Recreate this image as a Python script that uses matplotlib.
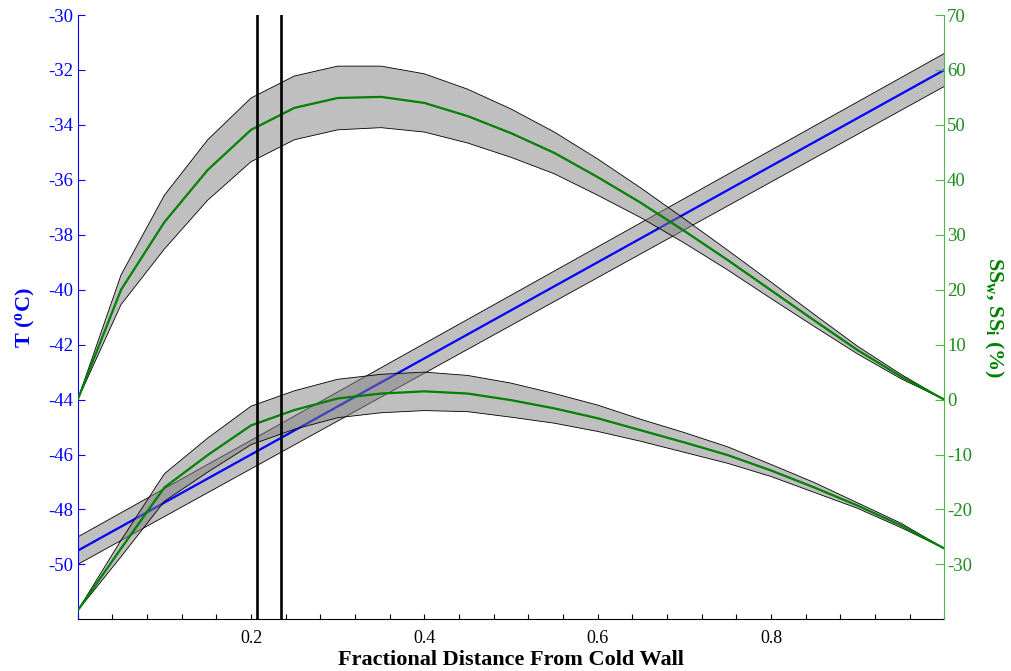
import numpy as np
import matplotlib
matplotlib.use("Agg")
import matplotlib.pyplot as plt
from matplotlib.ticker import MultipleLocator, FixedLocator

plt.rcParams['font.family'] = ['Liberation Serif', 'DejaVu Serif']
plt.rcParams['mathtext.fontset'] = 'custom'
plt.rcParams['mathtext.rm'] = 'Liberation Serif'
plt.rcParams['mathtext.it'] = 'Liberation Serif:italic'
plt.rcParams['mathtext.bf'] = 'Liberation Serif:bold'
plt.rcParams['axes.unicode_minus'] = False

# ---- data ----
x_grid = [0.00, 0.05, 0.10, 0.15, 0.20, 0.25, 0.30, 0.35, 0.40, 0.45, 0.50,
          0.55, 0.60, 0.65, 0.70, 0.75, 0.80, 0.85, 0.90, 0.95, 1.00]
ss_i = [0.0, 20.0, 32.3, 41.8, 49.1, 53.1, 54.9, 55.1, 54.0, 51.6, 48.5,
        44.9, 40.5, 35.8, 30.7, 25.4, 19.9, 14.4, 9.0, 4.2, 0.0]
ss_i_err = [0.0, 2.7, 4.9, 5.5, 5.8, 5.8, 5.8, 5.6, 5.3, 4.9, 4.4,
            3.8, 3.3, 2.7, 2.2, 1.8, 1.5, 1.1, 0.7, 0.4, 0.0]
ss_w = [-38.4, -27.1, -16.0, -10.1, -4.7, -1.9, 0.2, 1.1, 1.5, 1.1, -0.1,
        -1.6, -3.4, -5.6, -7.8, -10.1, -12.9, -16.0, -19.3, -22.9, -27.1]
ss_w_err = [0.0, 1.5, 2.5, 3.1, 3.5, 3.5, 3.5, 3.5, 3.5, 3.3, 3.1,
            2.7, 2.4, 2.0, 1.8, 1.5, 1.1, 0.9, 0.5, 0.4, 0.0]
t_x = [0.0, 1.0]
t_mid = [-49.5, -32.0]
t_err = [0.5, 0.6]
vlines_x = [0.207, 0.235]

x_ticks = [0.2, 0.4, 0.6, 0.8]
t_ticks = [-50, -48, -46, -44, -42, -40, -38, -36, -34, -32, -30]
ss_ticks = [-30, -20, -10, 0, 10, 20, 30, 40, 50, 60, 70]

BLUE = '#0000FF'
GREEN = '#008000'
RGREEN = '#4CB84C'
TGREEN = '#1E8C1E'

fig = plt.figure(figsize=(10.12, 6.71), dpi=100)
ax = fig.add_axes([0.0768, 0.0770, 0.9331 - 0.0768, 0.9776 - 0.0770])
ax2 = ax.twinx()

xg = np.array(x_grid)
si = np.array(ss_i); sie = np.array(ss_i_err)
sw = np.array(ss_w); swe = np.array(ss_w_err)
tx = np.array(t_x); tm = np.array(t_mid); te = np.array(t_err)

# temperature band + line (left axis)
ax.fill_between(tx, tm - te, tm + te, facecolor='#808080', alpha=0.5,
                edgecolor='none', zorder=1)
ax.plot(tx, tm + te, color='black', lw=0.6, zorder=2)
ax.plot(tx, tm - te, color='black', lw=0.6, zorder=2)
ax.plot(tx, tm, color=BLUE, lw=1.6, zorder=3)

# supersaturation bands + lines (right axis)
for m, e in ((si, sie), (sw, swe)):
    ax2.fill_between(xg, m - e, m + e, facecolor='#808080', alpha=0.5,
                     edgecolor='none', zorder=1)
    ax2.plot(xg, m + e, color='black', lw=0.6, zorder=2)
    ax2.plot(xg, m - e, color='black', lw=0.6, zorder=2)
    ax2.plot(xg, m, color=GREEN, lw=1.6, zorder=3)

for vx in vlines_x:
    ax2.axvline(vx, color='black', lw=1.9, zorder=4)

ax.set_xlim(0, 1)
ax.set_ylim(-52, -30)
ax2.set_ylim(-40, 70)

ax.xaxis.set_major_locator(FixedLocator(x_ticks))
ax.xaxis.set_minor_locator(MultipleLocator(0.04))
ax.set_yticks(t_ticks)
ax2.set_yticks(ss_ticks)

ax.tick_params(axis='x', which='both', direction='in', length=3.5, width=0.8,
               colors='black', labelsize=13, pad=8)
ax.tick_params(axis='y', which='both', direction='in', length=5, width=0.8,
               colors=BLUE, labelsize=13.5, labelcolor=BLUE)
ax2.tick_params(axis='y', direction='in', length=6.5, width=0.8,
                colors=RGREEN, labelcolor=TGREEN, labelsize=13.5, pad=2)
ax.tick_params(axis='y', pad=3)

for a in (ax, ax2):
    a.spines['top'].set_visible(False)
ax.spines['left'].set_color(BLUE)
ax.spines['right'].set_visible(False)
ax2.spines['left'].set_visible(False)
ax2.spines['bottom'].set_visible(False)
ax2.spines['right'].set_color(RGREEN)
ax.spines['bottom'].set_color('black')

ax.set_xlabel('Fractional Distance From Cold Wall', fontsize=16,
              fontweight='bold', labelpad=2)
ax.set_ylabel(r'T ($^\mathbf{o}$C)', fontsize=16, fontweight='bold',
              color=BLUE, labelpad=8)
ax2.set_ylabel(r'SS$_\mathbf{w}$, SS$_\mathbf{i}$ (%)', fontsize=16,
               fontweight='bold', color=GREEN, rotation=270, labelpad=24)

fig.savefig('out.png', dpi=100)
